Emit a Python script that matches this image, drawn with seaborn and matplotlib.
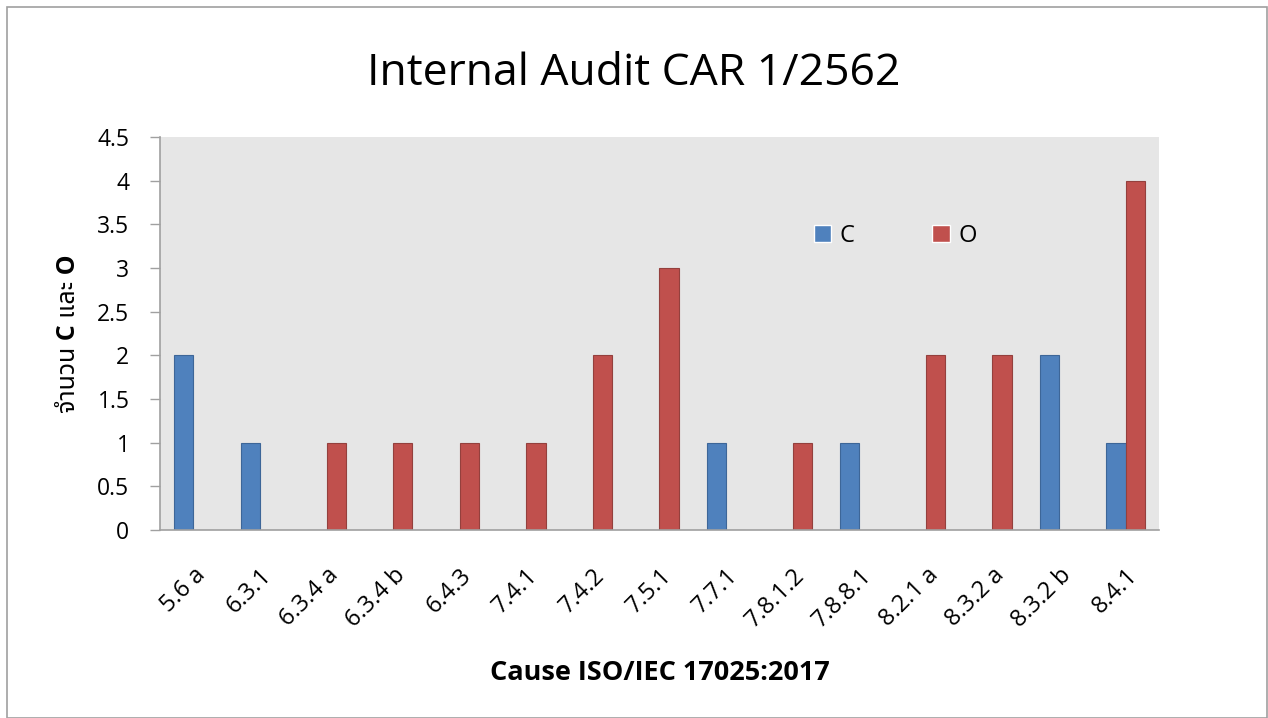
import matplotlib
matplotlib.use("Agg")
import matplotlib.pyplot as plt
import seaborn as sns
import pandas as pd
from matplotlib.patches import Rectangle

categories = ["5.6 a", "6.3.1", "6.3.4 a", "6.3.4 b", "6.4.3", "7.4.1", "7.4.2", "7.5.1",
              "7.7.1", "7.8.1.2", "7.8.8.1", "8.2.1 a", "8.3.2 a", "8.3.2 b", "8.4.1"]
c_values = [2, 1, 0, 0, 0, 0, 0, 0, 1, 0, 1, 0, 0, 2, 1]
o_values = [0, 0, 1, 1, 1, 1, 2, 3, 0, 1, 0, 2, 2, 0, 4]
series = ["C", "O"]
y_ticks = [0, 0.5, 1, 1.5, 2, 2.5, 3, 3.5, 4, 4.5]

df = pd.DataFrame({
    "cause": categories * 2,
    "series": ["C"] * len(categories) + ["O"] * len(categories),
    "count": c_values + o_values,
})

sns.set_theme(style="white")
plt.rcParams["font.family"] = ["Open Sans", "Noto Sans Thai", "Loma", "Garuda", "DejaVu Sans"]
plt.rcParams["text.color"] = "black"
plt.rcParams["axes.labelcolor"] = "black"
plt.rcParams["xtick.color"] = "black"
plt.rcParams["ytick.color"] = "black"

fig = plt.figure(figsize=(12.68, 7.18), dpi=100)
ax = fig.add_axes([0.1262, 0.2618, 0.7878, 0.5474])
ax.set_facecolor("#E6E6E6")

palette = {"C": "#4F81BD", "O": "#C0504D"}
sns.barplot(data=df, x="cause", y="count", hue="series", hue_order=series,
            palette=palette, width=0.58, ax=ax, saturation=1)

for patch, col in zip(ax.patches, ["#3D6698"] * len(categories) + ["#94403D"] * len(categories)):
    patch.set_edgecolor(col)
    patch.set_linewidth(0.8)

ax.set_ylim(0, 4.5)
ax.set_yticks(y_ticks)
ax.set_yticklabels([f"{t:g}" for t in y_ticks], fontsize=16.5)
ax.tick_params(axis="y", length=7, width=1, color="#A0A0A0", pad=15, left=True, labelcolor="black")
ax.tick_params(axis="x", length=0, pad=24, labelcolor="black")
ax.set_xlim(-0.5, len(categories) - 0.5)
plt.setp(ax.get_xticklabels(), rotation=45, ha="right", rotation_mode="anchor", fontsize=17)

for s in ["top", "right"]:
    ax.spines[s].set_visible(False)
for s in ["left", "bottom"]:
    ax.spines[s].set_color("#A0A0A0")
    ax.spines[s].set_linewidth(1.2)

ax.set_xlabel("Cause ISO/IEC 17025:2017", fontsize=19.5, fontweight="bold", labelpad=20)
ax.set_ylabel("จำนวน C และ O", fontsize=18, fontweight="bold", labelpad=12)

leg = ax.legend(title=None, loc="center", bbox_to_anchor=(0.736, 0.748), ncol=2,
                frameon=False, fontsize=17, handlelength=0.75, handleheight=0.75,
                columnspacing=3.3, handletextpad=0.35)

fig.suptitle("Internal Audit CAR 1/2562", fontsize=32, y=0.928)

fig.patches.append(Rectangle((7 / 1268, 0.0), 1 - 8 / 1268, 1 - 7 / 718,
                             transform=fig.transFigure, fill=False,
                             edgecolor="#A0A0A0", linewidth=1.2))

fig.savefig("out.png", dpi=100)
